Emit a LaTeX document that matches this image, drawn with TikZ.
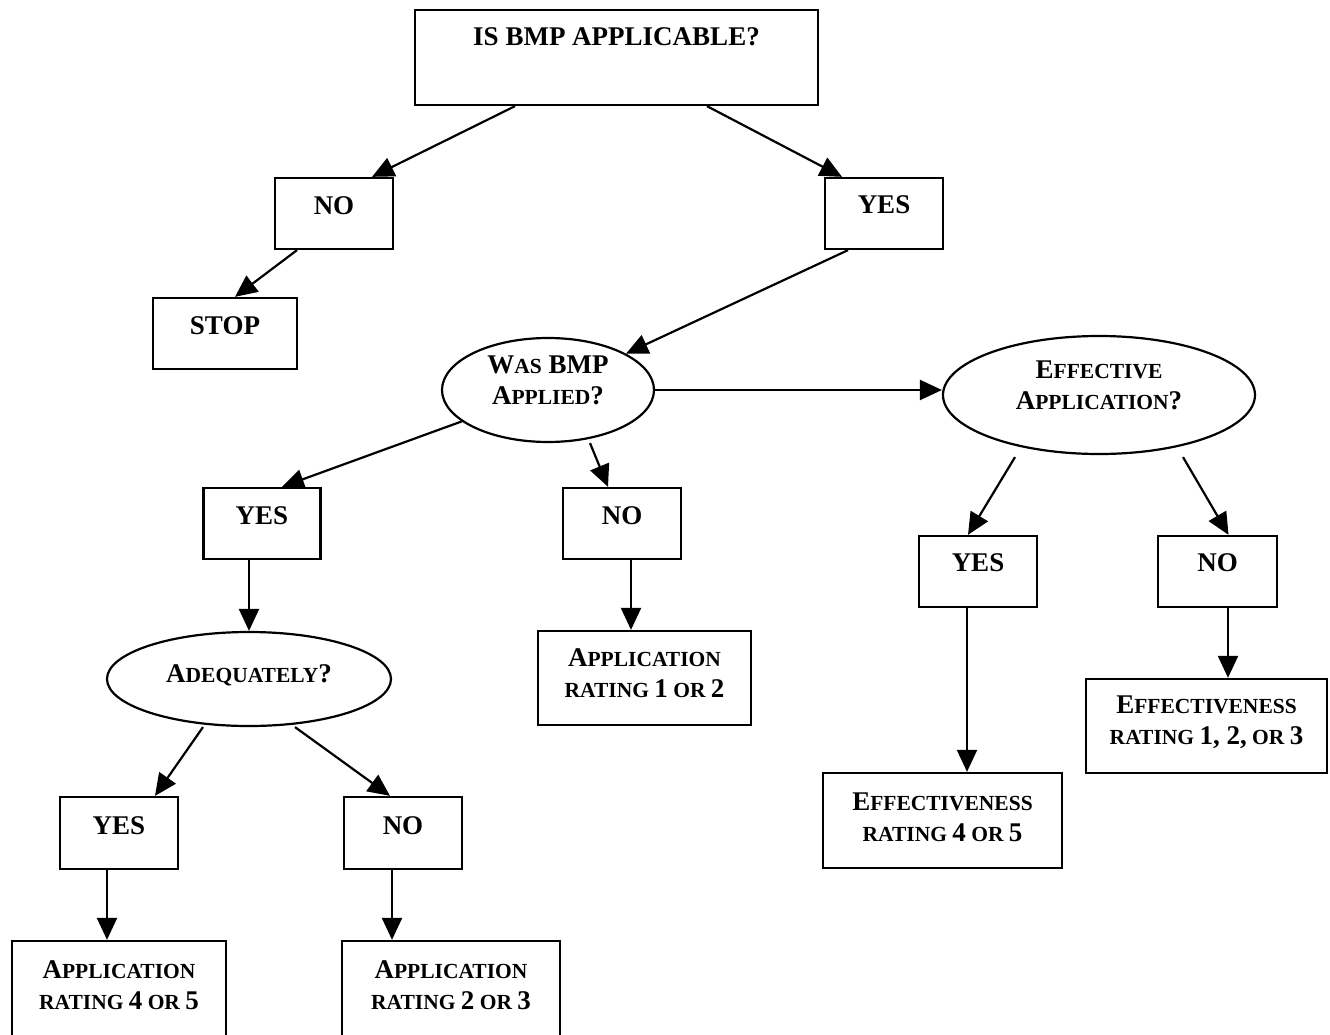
\documentclass[tikz,border=0pt]{standalone}
\usepackage{fontspec}
\setmainfont{Liberation Serif}
\usetikzlibrary{arrows.meta,shapes.geometric,calc}
\newcommand\bigsz{\fontsize{27}{31}\selectfont}
\newcommand\smsz{\fontsize{21.5}{31}\selectfont}
\newcommand\sca[2]{#1{\smsz #2}}
\begin{document}
\begin{tikzpicture}[x=1pt,y=-1pt,
  box/.style={draw,line width=2.3pt,inner sep=0pt},
  oval/.style={draw,ellipse,line width=2.2pt,inner sep=0pt},
  txt/.style={font=\bfseries\bigsz,align=center,inner sep=0pt},
  arr/.style={line width=2.2pt,-{Triangle[length=22pt,width=20pt]}}]
\useasboundingbox (0,0) rectangle (1330,1035);
% boxes
\node[box,minimum width=403pt,minimum height=95pt] (top) at (616.5,57.5) {};
\node[txt] (ttop) at (616.5,37) {IS BMP APPLICABLE?};
\node[box,minimum width=118pt,minimum height=71pt] (no1) at (334,213.5) {};
\node[txt] (tno1) at (334,206) {NO};
\node[box,minimum width=118pt,minimum height=71pt] (yes1) at (884,213.5) {};
\node[txt] (tyes1) at (884,205) {YES};
\node[box,minimum width=144pt,minimum height=71pt] (stop) at (225,333.5) {};
\node[txt] (tstop) at (225,326) {STOP};
\node[oval,minimum width=212pt,minimum height=104pt] (was) at (548,390) {};
\node[txt] (twas) at (548,380) {\sca{W}{AS} BMP\\\sca{A}{PPLIED}?};
\node[oval,minimum width=312pt,minimum height=118pt] (eff) at (1099,395) {};
\node[txt] (teff) at (1099,385) {\sca{E}{FFECTIVE}\\\sca{A}{PPLICATION}?};
\node[box,minimum width=117pt,minimum height=71pt] (yes2) at (262,523.5) {};
\node[txt] (tyes2) at (262,516) {YES};
\node[box,minimum width=118pt,minimum height=71pt] (no2) at (622,523.5) {};
\node[txt] (tno2) at (622,516) {NO};
\node[oval,minimum width=284pt,minimum height=94pt] (adeq) at (249,679) {};
\node[txt] (tadeq) at (249,675) {\sca{A}{DEQUATELY}?};
\node[box,minimum width=213pt,minimum height=94pt] (app12) at (644.5,678) {};
\node[txt] (tapp12) at (644.5,673) {\sca{A}{PPLICATION}\\{\smsz RATING }1{\smsz{} OR }2};
\node[box,minimum width=118pt,minimum height=71pt] (yes3) at (978,571.5) {};
\node[txt] (tyes3) at (978,563) {YES};
\node[box,minimum width=119pt,minimum height=71pt] (no3) at (1217.5,571.5) {};
\node[txt] (tno3) at (1217.5,563) {NO};
\node[box,minimum width=239pt,minimum height=95pt] (eff45) at (942.5,820.5) {};
\node[txt] (teff45) at (942.5,817) {\sca{E}{FFECTIVENESS}\\{\smsz RATING }4{\smsz{} OR }5};
\node[box,minimum width=241pt,minimum height=94pt] (eff123) at (1206.5,726) {};
\node[txt] (teff123) at (1206.5,722) {\sca{E}{FFECTIVENESS}\\{\smsz RATING }1, 2,{\smsz{} OR }3};
\node[box,minimum width=118pt,minimum height=72pt] (yes4) at (119,833) {};
\node[txt] (tyes4) at (119,826) {YES};
\node[box,minimum width=118pt,minimum height=72pt] (no4) at (403,833) {};
\node[txt] (tno4) at (403,826) {NO};
\node[box,minimum width=214pt,minimum height=104pt] (app45) at (119,993) {};
\node[txt] (tapp45) at (119,985) {\sca{A}{PPLICATION}\\{\smsz RATING }4{\smsz{} OR }5};
\node[box,minimum width=218pt,minimum height=104pt] (app23) at (451,993) {};
\node[txt] (tapp23) at (451,985) {\sca{A}{PPLICATION}\\{\smsz RATING }2{\smsz{} OR }3};
% connectors
\draw[arr] ($(top.south)+(-101.5,0)$) -- ($(no1.north)+(38,0)$);
\draw[arr] ($(top.south)+(90.5,0)$) -- ($(yes1.north)+(-42,0)$);
\draw[arr] ($(no1.south)+(-37,0)$) -- ($(stop.north)+(10,0)$);
\draw[arr] ($(yes1.south)+(-36,0)$) -- (was);
\draw[arr] (was.east) -- (was.east -| eff.west);
\draw[arr] (was.200) -- ($(yes2.north)+(20,0)$);
\draw[arr] ($(was.south)+(42,0)$) -- ($(no2.north)+(-14,0)$);
\draw[arr] (yes2.south -| adeq.north) -- (adeq.north);
\draw[arr] ($(no2.south)+(9,0)$) -- ($(app12.north)+(-13.5,0)$);
\draw[arr] ($(adeq.south)+(-46,0)$) -- ($(yes4.north)+(36,0)$);
\draw[arr] ($(adeq.south)+(46,0)$) -- ($(no4.north)+(-13,0)$);
\draw[arr] ($(yes4.south)+(-12,0)$) -- ($(app45.north)+(-12,0)$);
\draw[arr] ($(no4.south)+(-11,0)$) -- ($(app23.north)+(-59,0)$);
\draw[arr] ($(eff.south)+(-84,2)$) -- ($(yes3.north)+(-10,0)$);
\draw[arr] ($(eff.south)+(84,2)$) -- ($(no3.north)+(11,0)$);
\draw[arr] ($(yes3.south)+(-11,0)$) -- ($(eff45.north)+(24.5,0)$);
\draw[arr] ($(no3.south)+(10.5,0)$) -- ($(eff123.north)+(21.5,0)$);
\end{tikzpicture}
\end{document}
